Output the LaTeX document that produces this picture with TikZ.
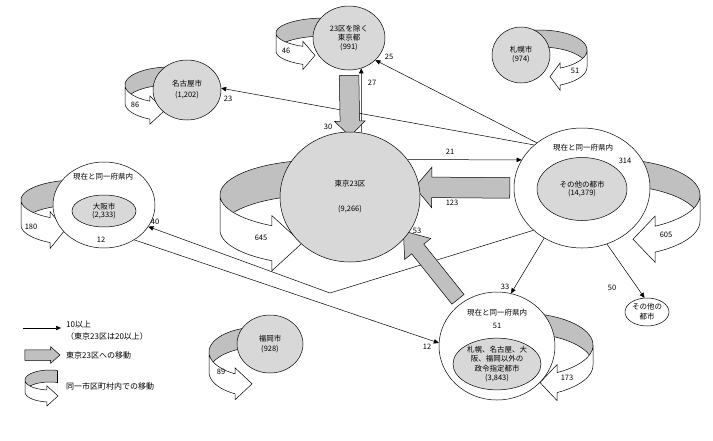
\documentclass[tikz,border=0pt]{standalone}
\usepackage{fontspec}
\setmainfont{Noto Sans CJK JP}
\usetikzlibrary{shapes.geometric,shapes.arrows,arrows.meta,calc}
\pgfdeclarelayer{loops}
\pgfdeclarelayer{lines}
\pgfdeclarelayer{blocks}
\pgfsetlayers{loops,lines,blocks,main}
\definecolor{bandgray}{HTML}{C0C0C0}
\definecolor{dotgray}{HTML}{D8D8D8}
\newcommand\smallcjk{\fontsize{7.5}{9}\selectfont}
\newcommand\legcjk{\fontsize{8}{10}\selectfont}
% ribbon loop: #1 cx, #2 cy, #3 a, #4 b, #5 h, #6 t1, #7 w, #8 L, #9 xscale
\newcommand\ribbon[9]{%
 \pgfmathsetmacro\rbxo{#3*cos(#6)}%
 \pgfmathsetmacro\rbyt{#4*sin(#6)}%
 \pgfmathsetmacro\rbyb{#5+#4*sin(#6)}%
 \pgfmathsetmacro\rbyu{\rbyt-#7}%
 \pgfmathsetmacro\rbyl{\rbyb+#7}%
 \pgfmathsetmacro\rbym{(\rbyt+\rbyb)/2}%
 \pgfmathsetmacro\rbxt{\rbxo+#8}%
 \pgfmathsetmacro\rbsa{180+asin(#5/(2*#4))}%
 \pgfmathsetmacro\rbsb{360-asin(#5/(2*#4))}%
 \pgfmathsetmacro\rbcx{0.3*#3}%
 \begin{scope}[shift={(#1,#2)},xscale=#9]
  \begin{scope}
   \clip (-#3-2,-#4-2) rectangle (\rbcx,#5+#4+2);
   \fill[bandgray] plot[domain=0:360,samples=72,variable=\t] ({#3*cos(\t)},{#4*sin(\t)}) -- cycle;
   \fill[white] plot[domain=0:360,samples=72,variable=\t] ({#3*cos(\t)},{#5+#4*sin(\t)}) -- cycle;
   \draw[loopline] plot[domain=180:360,samples=40,variable=\t] ({#3*cos(\t)},{#4*sin(\t)});
   \draw[loopline] plot[domain=\rbsa:\rbsb,samples=40,variable=\t] ({#3*cos(\t)},{#5+#4*sin(\t)});
  \end{scope}
  \filldraw[loopline,fill=white] plot[domain=180:#6,samples=30,variable=\t] ({#3*cos(\t)},{#4*sin(\t)})
    -- (\rbxo,\rbyu) -- (\rbxt,\rbym) -- (\rbxo,\rbyl)
    -- plot[domain=#6:180,samples=30,variable=\t] ({#3*cos(\t)},{#5+#4*sin(\t)}) -- cycle;
 \end{scope}}
\begin{document}
\begin{tikzpicture}[x=1pt,y=-1pt,
  loopline/.style={line width=0.5pt,black},
  dotc/.style={ellipse,draw,fill=dotgray,line width=0.5pt,inner sep=0pt,align=center,font=\smallcjk},
  ring/.style={ellipse,draw,fill=white,line width=0.5pt,inner sep=0pt,align=center,font=\smallcjk},
  lbl/.style={inner sep=0pt,font=\smallcjk,align=center},
  leg/.style={inner sep=0pt,font=\legcjk,anchor=west},
  arr/.style={line width=0.5pt,-{Triangle[length=5pt,width=4.5pt]}},
  garrow/.style={single arrow,draw,fill=bandgray,line width=0.5pt,inner xsep=0pt,sloped,allow upside down}]
\useasboundingbox (0,0) rectangle (713,440);

% ---------- circles ----------
\node[dotc,minimum width=72,minimum height=64] (excl) at (349,38) {23区を除く\\東京都\\(991)};
\node[dotc,minimum width=68,minimum height=60] (nag) at (187,90) {名古屋市\\[2pt](1,202)};
\node[dotc,minimum width=58,minimum height=56] (sap) at (521,55) {札幌市\\(974)};
\node[dotc,minimum width=140,minimum height=130] (t23) at (350,197) {東京23区\\[16pt](9,266)};
\node[ring,minimum width=136,minimum height=120] (oc) at (582,188) {};
\node[dotc,minimum width=90,minimum height=63,font=\fontsize{7.5}{8.5}\selectfont] (oci) at (582,189) {その他の都市\\(14,379)};
\node[ring,minimum width=102,minimum height=86] (os) at (104,205) {};
\node[dotc,minimum width=64,minimum height=32,font=\fontsize{7.5}{8.5}\selectfont] (osi) at (104,211) {大阪市\\(2,333)};
\node[ring,minimum width=116,minimum height=108] (bc) at (497,346) {};
\node[dotc,minimum width=88,minimum height=40,font=\fontsize{7.5}{9.6}\selectfont] (bci) at (497,364) {札幌、名古屋、大\\阪、福岡以外の\\政令指定都市\\(3,843)};
\node[dotc,minimum width=66,minimum height=58] (fuk) at (270,344) {福岡市\\[1pt](928)};
\node[ring,minimum width=44,minimum height=28,font=\fontsize{7.5}{10}\selectfont] (so) at (647,312) {その他の\\都市};

% ---------- loops ----------
\begin{pgfonlayer}{loops}
\ribbon{320}{195}{100}{35}{35}{118.7}{10}{30}{1}
\ribbon{77}{200}{56}{20}{25}{118.8}{6}{15}{1}
\ribbon{170}{85}{45}{18}{18}{116.4}{5}{15}{1}
\ribbon{325}{33}{49}{15}{18}{116.7}{5}{12}{1}
\ribbon{540}{50}{47}{20}{17}{115.2}{5}{10}{-1}
\ribbon{610}{195}{90}{36}{26}{120}{10}{22}{-1}
\ribbon{520}{345}{73}{32}{20}{120.5}{8}{17}{-1}
\ribbon{260}{352}{51}{25}{20}{119.3}{6}{17}{1}
\ribbon{50}{380}{25}{10}{12}{96.9}{4}{11}{1}
\draw[loopline] (57.5,370.5) -- (57.5,382.5);
\end{pgfonlayer}

% ---------- thin connectors ----------
\coordinate (bend) at (330,293);
\begin{pgfonlayer}{lines}
\draw[arr] (oc.135) -- (excl.-40);
\draw[arr] (oc.138) -- (nag.3);
\draw[arr] (t23.33) -- (oc.155);
\draw[arr] (t23.80) -- (excl.-68);
\draw[arr] (oc.-127) -- (bc.75);
\draw[arr] (oc.-66) -- (so.100);
\draw[arr] (oc.-139) -- (bend) -- (os.-26);
\draw[arr] (os.-49) -- (bc.177);
\end{pgfonlayer}

% ---------- block arrows (to Tokyo 23) ----------
\begin{pgfonlayer}{blocks}
\path (excl.south) -- node[garrow,minimum height=61,inner ysep=9.5,single arrow head extend=5.5,single arrow tip angle=90] {} (t23.north);
\path (oc.west) -- node[garrow,minimum height=95,inner ysep=10,single arrow head extend=10,single arrow tip angle=100] {} (t23.8);
\path (bc.130) -- node[garrow,minimum height=87.5,inner ysep=7.5,single arrow head extend=9,single arrow tip angle=72] {} (t23.-34);
\end{pgfonlayer}

% ---------- labels ----------
\node[lbl] at (328,127) {30};
\node[lbl] at (372,83) {27};
\node[lbl] at (389,57) {25};
\node[lbl] at (286,51) {46};
\node[lbl] at (228,99) {23};
\node[lbl] at (135,105) {86};
\node[lbl] at (575,71) {51};
\node[lbl] at (450,152) {21};
\node[lbl] at (452,203) {123};
\node[lbl] at (583,148) {現在と同一府県内};
\node[lbl] at (625,161) {314};
\node[lbl] at (666,235) {605};
\node[lbl] at (261,238) {645};
\node[lbl] at (417,231) {53};
\node[lbl] at (505,287) {33};
\node[lbl] at (612,288) {50};
\node[lbl] at (103,177) {現在と同一府県内};
\node[lbl] at (31,227) {180};
\node[lbl] at (155,222) {40};
\node[lbl] at (101,240) {12};
\node[lbl] at (427,347) {12};
\node[lbl] at (497,313) {現在と同一府県内};
\node[lbl] at (497,326) {51};
\node[lbl] at (567,378) {173};
\node[lbl] at (221,372) {89};

% ---------- legend ----------
\coordinate (l1a) at (23,328);
\coordinate (l1b) at (61,328);
\draw[arr] (l1a) -- (l1b);
\node[leg] at (66,325) {10以上};
\node[leg] at (66,336) {（東京23区は20以上）};
\coordinate (l2a) at (22,355);
\coordinate (l2b) at (57,355);
\path (l2a) -- node[garrow,minimum height=35,inner ysep=5,single arrow head extend=3,single arrow tip angle=83] {} (l2b);
\node[leg] at (66,355) {東京23区への移動};
\node[leg] at (66,386) {同一市区町村内での移動};
\end{tikzpicture}
\end{document}
